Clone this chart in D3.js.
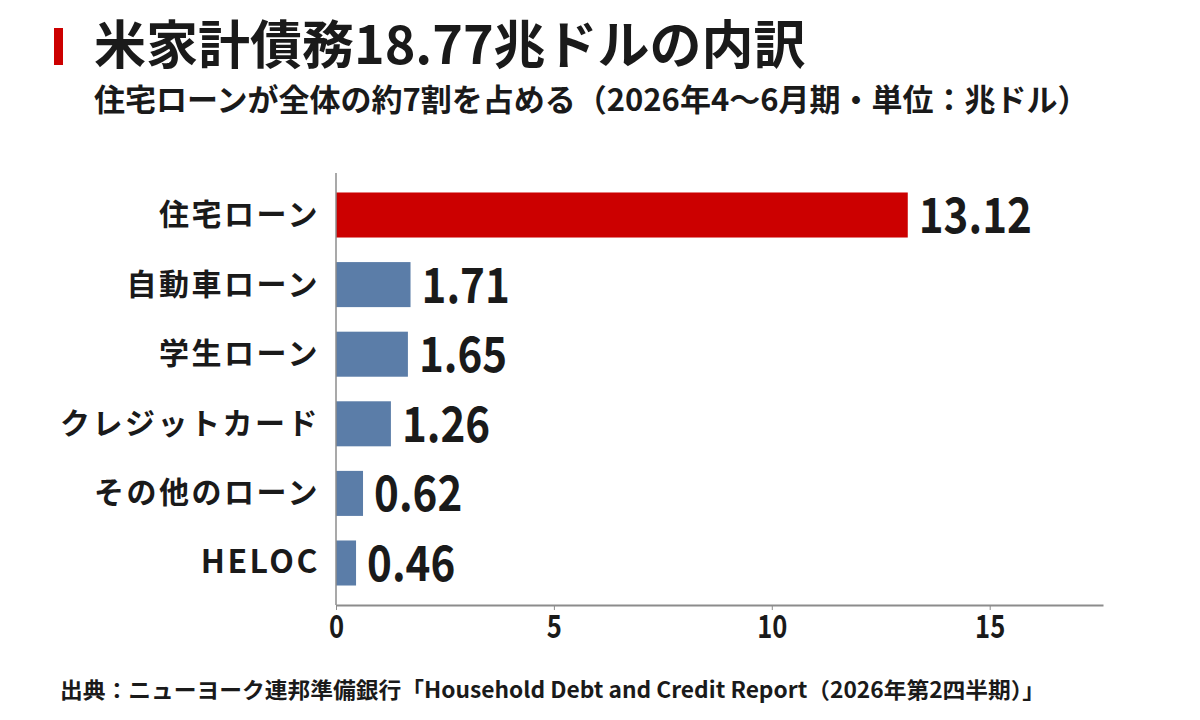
<!DOCTYPE html>
<html>
<head>
<meta charset="utf-8">
<script src="https://cdn.jsdelivr.net/npm/d3@7"></script>
<style>
  body { margin: 0; background: #fff; }
  svg { display: block; }
  .jp { font-family: "Noto Sans CJK JP", "Noto Sans", sans-serif; font-weight: bold; fill: #1a1a1a; }
</style>
</head>
<body>
<svg id="chart"></svg>
<script>
var W = 1200, H = 720;
var margin = {top: 173, left: 336, right: 97, bottom: 115};

var categories = ["住宅ローン", "自動車ローン", "学生ローン", "クレジットカード", "その他のローン", "HELOC"];
var values = [13.12, 1.71, 1.65, 1.26, 0.62, 0.46];
var labels = ["13.12", "1.71", "1.65", "1.26", "0.62", "0.46"];
var ticks = [0, 5, 10, 15];

var title = "米家計債務18.77兆ドルの内訳";
var subtitle = "住宅ローンが全体の約7割を占める（2026年4〜6月期・単位：兆ドル）";
var source = "出典：ニューヨーク連邦準備銀行「Household Debt and Credit Report（2026年第2四半期）」";

var svg = d3.select("#chart")
  .attr("width", W)
  .attr("height", H)
  .attr("viewBox", [0, 0, W, H]);

// title block
svg.append("rect")
  .attr("x", 54).attr("y", 28)
  .attr("width", 9).attr("height", 37)
  .attr("fill", "#cc0000");
svg.append("text")
  .attr("class", "jp")
  .attr("x", 94).attr("y", 64)
  .style("font-size", "52px")
  .text(title);
svg.append("text")
  .attr("class", "jp")
  .attr("x", 94).attr("y", 111)
  .style("font-size", "31px")
  .text(subtitle);

var x = d3.scaleLinear()
  .domain([0, 17.6])
  .range([margin.left, W - margin.right]);

var y = d3.scaleBand()
  .domain(categories)
  .range([margin.top, H - margin.bottom])
  .paddingInner(0.353)
  .paddingOuter(0.28);

// bars
svg.append("g")
  .selectAll("rect")
  .data(values)
  .join("rect")
  .attr("x", x(0))
  .attr("y", (d, i) => y(categories[i]))
  .attr("width", d => x(d) - x(0))
  .attr("height", y.bandwidth())
  .attr("fill", (d, i) => i === 0 ? "#cc0000" : "#5b7da8");

// value labels (slightly condensed)
svg.append("g")
  .selectAll("text")
  .data(values)
  .join("text")
  .attr("class", "jp")
  .attr("transform", (d, i) => "translate(" + (x(d) + 11) + "," + (y(categories[i]) + y.bandwidth() / 2 + 18) + ") scale(0.86,1)")
  .style("font-size", "49px")
  .text((d, i) => labels[i]);

// category labels
svg.append("g")
  .selectAll("text")
  .data(categories)
  .join("text")
  .attr("class", "jp")
  .attr("x", 320)
  .attr("y", d => y(d) + y.bandwidth() / 2 + 10)
  .attr("text-anchor", "end")
  .style("font-size", d => /^[A-Z]+$/.test(d) ? "32px" : "30px")
  .style("letter-spacing", d => /^[A-Z]+$/.test(d) ? "2.5px" : "2.5px")
  .text(d => d);

// y axis line
svg.append("line")
  .attr("x1", x(0)).attr("x2", x(0))
  .attr("y1", margin.top).attr("y2", H - margin.bottom)
  .attr("stroke", "#8c8c8c")
  .attr("stroke-width", 1.5);

// x axis
var xAxis = svg.append("g")
  .attr("transform", "translate(0," + (H - margin.bottom) + ")")
  .call(d3.axisBottom(x).tickValues(ticks).tickSize(5).tickPadding(5).tickSizeOuter(0));
xAxis.select(".domain").attr("stroke", "#8c8c8c").attr("stroke-width", 2);
xAxis.selectAll(".tick line").attr("stroke", "#8c8c8c");
xAxis.selectAll(".tick text")
  .attr("class", "jp")
  .attr("transform", "scale(0.8,1)")
  .style("font-size", "32px");

// source
svg.append("text")
  .attr("class", "jp")
  .attr("x", 60).attr("y", 698)
  .attr("textLength", 985)
  .attr("lengthAdjust", "spacingAndGlyphs")
  .style("font-size", "22px")
  .text(source);
</script>
</body>
</html>
